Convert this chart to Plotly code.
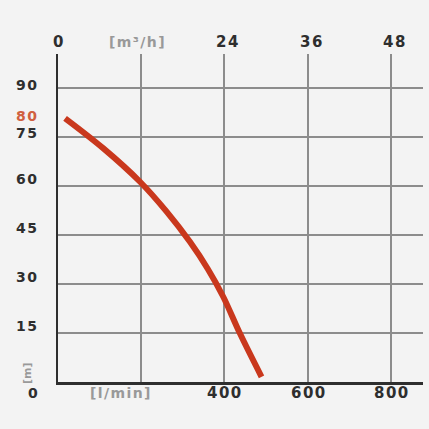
import plotly.graph_objects as go

# Pump curve data (flow in l/min, head in m)
flow_lpm = [17, 109, 197, 260, 317, 360, 397, 437, 489]
head_m = [80.7, 71.5, 61.3, 52.3, 42.9, 34.6, 26.1, 14.9, 1.6]

# Axis ticks / labels
x_grid = [200, 400, 600, 800]
x_bottom_vals = [400, 600, 800]
x_bottom_text = ["400", "600", "800"]
x_top_vals = [0, 400, 600, 800]
x_top_text = ["0", "24", "36", "48"]
y_grid = [15, 30, 45, 60, 75, 90]
y_labels = [90, 75, 60, 45, 30, 15]
max_head_label = 80
unit_top = "[m³/h]"
unit_bottom = "[l/min]"
unit_y = "[m]"

BG = "#f3f3f3"
DARK = "#2e2e2e"
GRID = "#8c8c8c"
UNIT = "#999999"
RED = "#c9381d"
FONT = "DejaVu Sans"
SP = "\u200a"
Y_SHIFT = {90: 3, 75: 4}


def spaced(s):
    return SP.join(s)


fig = go.Figure()
fig.add_trace(go.Scatter(
    x=flow_lpm, y=head_m, mode="lines",
    line=dict(color=RED, width=6, shape="spline", smoothing=1.0),
    hoverinfo="skip", showlegend=False,
))

base = dict(showarrow=False, xanchor="center", yanchor="middle")
ann = []
# left labels
for v in y_labels:
    ann.append(dict(base, x=0, xref="x", y=v, yref="y", xshift=-32,
                    yshift=Y_SHIFT.get(v, 7),
                    text="<b>" + spaced(str(v)) + "</b>",
                    font=dict(family=FONT, size=14, color=DARK)))
ann.append(dict(base, x=0, xref="x", y=max_head_label, yref="y", xshift=-32, yshift=5,
                text="<b>" + spaced(str(max_head_label)) + "</b>",
                font=dict(family=FONT, size=14, color="#d0603f")))
ann.append(dict(base, x=0, xref="x", y=0, yref="y", xshift=-25, yshift=-11,
                text="<b>0</b>",
                font=dict(family=FONT, size=14, color=DARK)))
ann.append(dict(base, x=0, xref="x", y=0, yref="y", xshift=-31, yshift=9,
                text="<b>" + unit_y + "</b>", textangle=-90,
                font=dict(family=FONT, size=11, color=UNIT)))
# bottom labels
for v, t in zip(x_bottom_vals, x_bottom_text):
    ann.append(dict(base, x=v, xref="x", y=0, yref="y", yshift=-11,
                    text="<b>" + spaced(t) + "</b>",
                    font=dict(family=FONT, size=15, color=DARK)))
ann.append(dict(base, x=149, xref="x", y=0, yref="y", yshift=-11,
                text="<b>" + spaced(unit_bottom) + "</b>",
                font=dict(family=FONT, size=14, color=UNIT)))
# top labels
for v, t in zip(x_top_vals, x_top_text):
    ann.append(dict(base, x=v, xref="x", y=1, yref="paper", yshift=12,
                    xshift=3 if v else 0,
                    text="<b>" + spaced(t) + "</b>",
                    font=dict(family=FONT, size=15, color=DARK)))
ann.append(dict(base, x=190, xref="x", y=1, yref="paper", yshift=12,
                text="<b>" + spaced(unit_top) + "</b>",
                font=dict(family=FONT, size=14, color=UNIT)))

fig.update_layout(
    width=429, height=429,
    margin=dict(l=58, r=6, t=54, b=47),
    paper_bgcolor=BG, plot_bgcolor=BG,
    annotations=ann,
    xaxis=dict(range=[0, 877], tickvals=x_grid, showticklabels=False,
               showgrid=True, gridcolor=GRID, gridwidth=2,
               showline=True, linecolor=DARK, linewidth=2.5,
               zeroline=False, ticks="", fixedrange=True),
    yaxis=dict(range=[0, 100.4], tickvals=y_grid, showticklabels=False,
               showgrid=True, gridcolor=GRID, gridwidth=1.3,
               showline=True, linecolor=DARK, linewidth=2.5,
               zeroline=False, ticks="", fixedrange=True),
)

fig.write_html(
    "out.html",
    config={"displayModeBar": False, "staticPlot": True},
    post_script="document.body.style.margin='0';document.body.style.background='%s';" % BG,
)
